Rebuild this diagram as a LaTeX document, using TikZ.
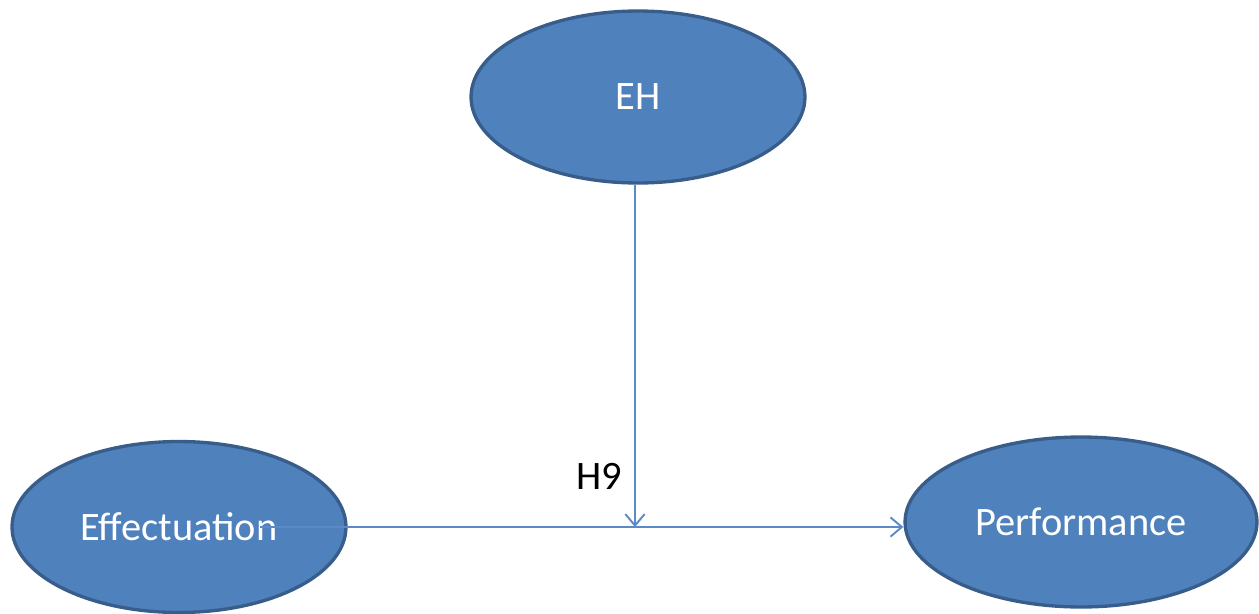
\documentclass[tikz,border=0pt]{standalone}
\usepackage{fontspec}
\setmainfont{Carlito}
\usetikzlibrary{shapes.geometric,arrows.meta}
\definecolor{ovalfill}{HTML}{4F81BD}
\definecolor{ovaldraw}{HTML}{385D8A}
\definecolor{linkblue}{HTML}{5A8AC8}
\begin{document}
\begin{tikzpicture}[x=0.02cm, y=-0.02cm, font=\fontsize{23}{26}\selectfont, line join=round,
		>={Straight Barb[length=6.5pt,width=11pt,line width=1.1pt]},
		oval/.style={ellipse, fill=ovalfill, draw=ovaldraw, line width=1.9pt, text=white, inner sep=0pt},
		link/.style={draw=linkblue, line width=1.1pt}]
		\def\ytop{97}  % hang of the moderator
		\def\ybase{527}
		\useasboundingbox (0,0) rectangle (1259,613);
		\node[oval, minimum width=6.68cm, minimum height=3.44cm] (eh) at (638,\ytop) {EH};
		\node[oval, minimum width=6.68cm, minimum height=3.42cm] (effect) at (179,\ybase) {Effectuation};
		\node[oval, minimum width=7.04cm, minimum height=3.40cm] (perf) at (1081,522) {Performance};
		\coordinate (from) at (260,\ybase);
		\coordinate (meet) at (635,\ybase);
		\draw[link,->] (from)--(perf.west |- from);
		\draw[link,->] (eh.south -| meet)--(meet);
		\node (h9) at (599,476) {H9};
		\end{tikzpicture}
\end{document}
